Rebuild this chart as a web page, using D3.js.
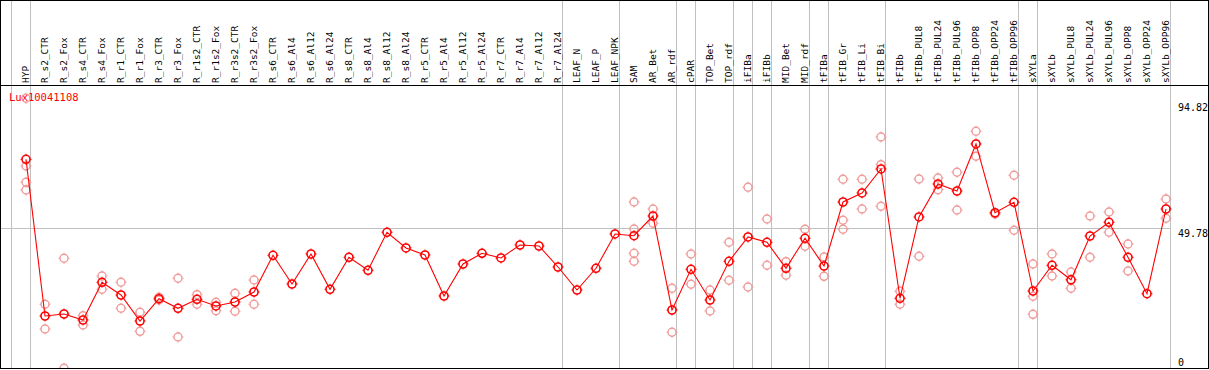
<!DOCTYPE html>
<html><head><meta charset="utf-8">
<script src="https://cdn.jsdelivr.net/npm/d3@7"></script>
<style>html,body{margin:0;padding:0;background:#fff;overflow:hidden}</style>
</head><body>
<script>
const categories = ["HYP","R_s2_CTR","R_s2_Fox","R_s4_CTR","R_s4_Fox","R_r1_CTR","R_r1_Fox","R_r3_CTR","R_r3_Fox","R_r1s2_CTR","R_r1s2_Fox","R_r3s2_CTR","R_r3s2_Fox","R_s6_CTR","R_s6_Al4","R_s6_Al12","R_s6_Al24","R_s8_CTR","R_s8_Al4","R_s8_Al12","R_s8_Al24","R_r5_CTR","R_r5_Al4","R_r5_Al12","R_r5_Al24","R_r7_CTR","R_r7_Al4","R_r7_Al12","R_r7_Al24","LEAF_N","LEAF_P","LEAF_NPK","SAM","AR_Bet","AR_rdf","cPAR","TOP_Bet","TOP_rdf","iFIBa","iFIBb","MID_Bet","MID_rdf","tFIBa","tFIB_Gr","tFIB_Li","tFIB_Bi","tFIBb","tFIBb_PUL8","tFIBb_PUL24","tFIBb_PUL96","tFIBb_OPP8","tFIBb_OPP24","tFIBb_OPP96","sXYLa","sXYLb","sXYLb_PUL8","sXYLb_PUL24","sXYLb_PUL96","sXYLb_OPP8","sXYLb_OPP24","sXYLb_OPP96"];

const means = [73.65,19.26,19.96,17.88,30.96,26.55,17.53,25.27,21.94,25.06,22.74,24.12,27.59,40.33,30.37,40.78,28.53,39.64,35.13,48.32,42.87,40.44,26.21,37.31,41.03,39.40,43.91,43.56,36.27,28.29,35.82,47.73,47.14,53.97,21.35,35.47,24.82,38.25,46.69,44.85,35.82,46.23,36.62,58.83,61.96,70.29,25.41,53.63,65.08,62.65,78.97,55.10,58.73,27.94,36.86,31.83,47.03,51.79,39.64,27.00,56.40];

const replicates = [
 [94.82,71.33,65.67,63.00],[23.33,14.75],[39.29,1.11],[19.37,16.14],[33.15,28.53],[30.96,21.94],[20.55,13.95],[25.75,24.80],[32.35,11.97],[26.66,23.33],[24.02,21.10],[27.14,20.90],[31.76,23.33],
 [],[],[],[],[],[],[],[],[],[],[],[],[],[],[],[],[],[],[],
 [58.83,49.46,41.03,38.25],[56.40,51.44],[28.88,13.61],[40.78,30.27],[28.29,21.00],[44.85,31.66],[63.94,29.33],[52.94,36.86],[38.11,33.39],[49.36,43.46],[39.74,33.04],[66.71,52.48,49.36],[66.71,56.40],[81.40,71.78,57.34],[27.84,23.33],[66.82,39.99],[67.16,63.10],[69.14,56.06],[83.37,74.70],[54.67],[68.10,49.01],[37.31,26.10,19.85],[40.78,33.15],[34.54,28.88],[53.97,39.64],[55.36,48.32],[44.25,34.88],[],[59.87,53.18]
];

const groupEnds = ["HYP","R_r7_Al24","LEAF_NPK","AR_rdf","cPAR","TOP_rdf","iFIBa","iFIBb","MID_rdf","tFIBa","tFIB_Bi","tFIBb_OPP96","sXYLa","sXYLb_OPP96"];
const yTickLabels = ["94.82","49.78","0"];
const yTickValues = [94.82,49.78,0];
const title = "Lux10041108";

const W = 1209, H = 370;
const svg = d3.select("body").append("svg").attr("width", W).attr("height", H);

const x = d3.scalePoint().domain(categories).range([26, 1166]);
const y = d3.scaleLinear().domain([0, 94.82]).range([371.5, 98.3]);
const step = x.step();

const mono = "'DejaVu Sans Mono', 'Liberation Mono', monospace";

// clip for plot body
svg.append("clipPath").attr("id","pc").append("rect").attr("x",1).attr("y",86).attr("width",1207).attr("height",282);

// vertical group separators
const sepX = [x(categories[0]) - step + 4.5].concat(groupEnds.map(c => x(c) + 4.5));
svg.append("g").selectAll("line").data(sepX).join("line")
  .attr("x1", d => Math.floor(d) + 0.5).attr("x2", d => Math.floor(d) + 0.5)
  .attr("y1", 0).attr("y2", 368)
  .attr("stroke", "#c0c0c0").attr("stroke-width", 1);

// horizontal mid grid line
const yMid = Math.floor(y(yTickValues[1])) + 0.5;
svg.append("line").attr("x1", 1).attr("x2", 1170).attr("y1", yMid).attr("y2", yMid)
  .attr("stroke", "#c0c0c0").attr("stroke-width", 1);

// header labels
svg.append("g").selectAll("text").data(categories).join("text")
  .attr("transform", d => `translate(${x(d)},83) rotate(-90)`)
  .attr("dy", "0.36em")
  .attr("font-family", mono).attr("font-size", "9.5px").attr("fill", "#000")
  .text(d => d);

// y tick labels
const tickOffsets = [12.4, 8.6, -5.8];
svg.append("g").selectAll("text").data(yTickValues).join("text")
  .attr("x", 1178).attr("y", (d, i) => y(d) + tickOffsets[i])
  .attr("font-family", mono).attr("font-size", "10px").attr("fill", "#000")
  .text((d, i) => yTickLabels[i]);

// title
svg.append("text").attr("x", 9).attr("y", 101)
  .attr("font-family", mono).attr("font-size", "10.5px").attr("fill", "#ff0000")
  .text(title);

const plot = svg.append("g").attr("clip-path", "url(#pc)");

function glyph(sel, r, color, sw) {
  sel.append("circle").attr("r", r).attr("fill", "none").attr("stroke", color).attr("stroke-width", sw);
  sel.append("path").attr("d", `M0,${-r-1.5}V${-r}M0,${r}V${r+1.5}M${-r-1.5},0H${-r}M${r},0H${r+1.5}`)
    .attr("stroke", color).attr("stroke-width", 1);
}

// replicates
const repPts = [];
replicates.forEach((arr, i) => arr.forEach(v => repPts.push({c: categories[i], v})));
plot.append("g").selectAll("g").data(repPts).join("g")
  .attr("transform", d => `translate(${x(d.c)},${y(d.v)})`)
  .each(function(){ glyph(d3.select(this), 4, "#f09a9a", 1.4); });

// mean line
const line = d3.line().x((d, i) => x(categories[i])).y(d => y(d));
plot.append("path").datum(means).attr("d", line)
  .attr("fill", "none").attr("stroke", "#ff0000").attr("stroke-width", 1.1);

// mean points
plot.append("g").selectAll("g").data(means).join("g")
  .attr("transform", (d, i) => `translate(${x(categories[i])},${y(d)})`)
  .each(function(){ glyph(d3.select(this), 4, "#ff0000", 1.6); });

// frame
svg.append("rect").attr("x", 0.5).attr("y", 0.5).attr("width", 1208).attr("height", 368)
  .attr("fill", "none").attr("stroke", "#000").attr("stroke-width", 1);
svg.append("line").attr("x1", 0).attr("x2", 1209).attr("y1", 85.5).attr("y2", 85.5)
  .attr("stroke", "#000").attr("stroke-width", 1);
</script>
</body></html>
